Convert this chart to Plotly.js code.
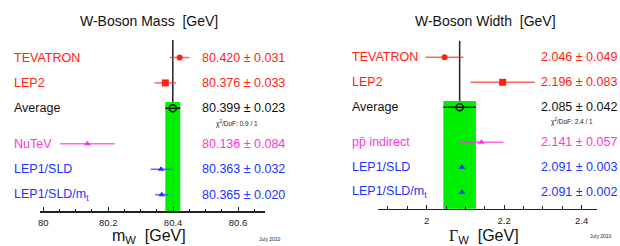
<!DOCTYPE html>
<html><head><meta charset="utf-8">
<script src="https://cdn.plot.ly/plotly-3.0.1.min.js"></script>
<style>html,body{margin:0;padding:0;background:#fff}#c{width:620px;height:246px}</style>
</head><body><div id="c"></div>
<script>
// ---- data ----
const massLabels = ['TEVATRON', 'LEP2', 'Average', 'NuTeV', 'LEP1/SLD', 'LEP1/SLD/m<sub>t</sub>'];
const massValues = [80.420, 80.376, 80.399, 80.136, 80.363, 80.365];
const massErrors = [0.031, 0.033, 0.023, 0.084, 0.032, 0.020];
const massChi2 = '0.9 / 1';

const widthLabels = ['TEVATRON', 'LEP2', 'Average', 'pp\u0304 indirect', 'LEP1/SLD', 'LEP1/SLD/m<sub>t</sub>'];
const widthValues = [2.046, 2.196, 2.085, 2.141, 2.091, 2.091];
const widthErrors = [0.049, 0.083, 0.042, 0.057, 0.003, 0.002];
const widthChi2 = '2.4 / 1';

const massTicks = [80, 80.2, 80.4, 80.6];
const widthTicks = [2, 2.2, 2.4];

// ---- styles (per row) ----
const rowPos = [0, 1, 2, 3.4, 4.4, 5.4];
const AVG = 2;
const textColors = ['#ff2211', '#ff2211', '#111111', '#ff33e0', '#2233ff', '#2233ff'];
const barColors = ['rgba(255,40,30,0.7)', 'rgba(255,40,30,0.7)', '#111111', 'rgba(255,50,225,0.75)', 'rgba(40,60,255,0.75)', 'rgba(40,60,255,0.75)'];
const symbols = ['circle', 'square', 'circle-open', 'triangle-up', 'triangle-up', 'triangle-up'];
const sizes = [6, 7, 7, 6, 6, 6];
const FONT = 'Liberation Sans, Arial, sans-serif';

const traces = [];
const annotations = [];
const shapes = [];

function panel(vals, errs, labels, chi2, xa, ya, labelX, valueX, chiX, dec) {
  const xr = xa;
  const yr = ya;
  // green band & central line
  shapes.push({type: 'rect', xref: xr, yref: yr, x0: vals[AVG] - errs[AVG], x1: vals[AVG] + errs[AVG],
    y0: rowPos[AVG] - 0.25, y1: 7, fillcolor: '#00ee00', line: {width: 0}, layer: 'below'});
  shapes.push({type: 'line', xref: xr, yref: yr + ' domain', x0: vals[AVG], x1: vals[AVG], y0: 0, y1: 1,
    line: {color: '#222', width: 1.5}, layer: 'below'});
  for (let i = 0; i < vals.length; i++) {
    traces.push({
      type: 'scatter', mode: 'markers', x: [vals[i]], y: [rowPos[i]], xaxis: xr, yaxis: yr,
      marker: {symbol: symbols[i], size: sizes[i], color: i === AVG ? '#111' : textColors[i],
               line: {width: i === AVG ? 1.5 : 0, color: '#111'}},
      error_x: {type: 'data', array: [errs[i]], visible: true, width: 0, thickness: 1.5, color: barColors[i]},
      hoverinfo: 'skip', showlegend: false, cliponaxis: false
    });
    annotations.push({xref: 'paper', yref: yr, x: labelX, y: rowPos[i], xanchor: 'left', yanchor: 'middle',
      text: labels[i], showarrow: false, font: {family: FONT, size: 12.5, color: textColors[i]}});
    annotations.push({xref: 'paper', yref: yr, x: valueX, y: rowPos[i], xanchor: 'right', yanchor: 'middle',
      text: vals[i].toFixed(dec) + ' \u00b1 ' + errs[i].toFixed(3), showarrow: false,
      font: {family: FONT, size: 12.5, color: textColors[i]}});
  }
  annotations.push({xref: 'paper', yref: yr, x: chiX, y: rowPos[AVG] + 0.58, xanchor: 'left', yanchor: 'middle',
    text: '\u03c7<sup>2</sup>/DoF: ' + chi2, showarrow: false, font: {family: FONT, size: 6.5, color: '#222'}});
}

panel(massValues, massErrors, massLabels, massChi2, 'x', 'y', 12 / 620, 287 / 620, 214 / 620, 3);
panel(widthValues, widthErrors, widthLabels, widthChi2, 'x2', 'y2', 350 / 620, 619 / 620, 549 / 620, 3);

// titles
annotations.push({xref: 'paper', yref: 'paper', x: 149 / 620, y: 1 - 21 / 246, xanchor: 'center', yanchor: 'middle',
  text: 'W-Boson Mass\u00a0 [GeV]', showarrow: false, font: {family: FONT, size: 14, color: '#111'}});
annotations.push({xref: 'paper', yref: 'paper', x: 486 / 620, y: 1 - 21 / 246, xanchor: 'center', yanchor: 'middle',
  text: 'W-Boson Width\u00a0 [GeV]', showarrow: false, font: {family: FONT, size: 14, color: '#111'}});
// axis titles
annotations.push({xref: 'paper', yref: 'paper', x: 149 / 620, y: 1 - 236.5 / 246, xanchor: 'center', yanchor: 'middle',
  text: 'm<sub>W</sub>\u00a0 [GeV]', showarrow: false, font: {family: FONT, size: 16, color: '#111'}});
annotations.push({xref: 'paper', yref: 'paper', x: 484 / 620, y: 1 - 236.5 / 246, xanchor: 'center', yanchor: 'middle',
  text: '<span style="font-family:Liberation Serif,serif">\u0393</span><sub>W</sub>\u00a0 [GeV]', showarrow: false,
  font: {family: FONT, size: 16, color: '#111'}});
// date stamps
annotations.push({xref: 'paper', yref: 'paper', x: 270 / 620, y: 1 - 239 / 246, xanchor: 'center', yanchor: 'middle',
  text: 'July 2010', showarrow: false, font: {family: FONT, size: 5, color: '#222'}});
annotations.push({xref: 'paper', yref: 'paper', x: 601 / 620, y: 1 - 236 / 246, xanchor: 'center', yanchor: 'middle',
  text: 'July 2010', showarrow: false, font: {family: FONT, size: 5, color: '#222'}});

const xCommon = {
  showline: true, linecolor: '#222', linewidth: 1.5, showgrid: false, zeroline: false,
  ticks: 'inside', ticklen: 4, tickwidth: 1, tickcolor: '#222', tickmode: 'array',
  minor: {dtick: 0.05, ticks: 'inside', ticklen: 2.5, tickcolor: '#222', showgrid: false},
  tickfont: {family: FONT, size: 9.5, color: '#222'}, ticklabelstandoff: 2, fixedrange: true
};

const layout = {
  width: 620, height: 246, margin: {l: 0, r: 0, t: 0, b: 0},
  paper_bgcolor: '#fff', plot_bgcolor: 'rgba(0,0,0,0)', showlegend: false,
  xaxis: Object.assign({}, xCommon, {domain: [40 / 620, 265 / 620], range: [79.99, 80.683], anchor: 'y',
    tickvals: massTicks, ticktext: massTicks.map(String), minor: Object.assign({}, xCommon.minor, {tick0: 80})}),
  yaxis: {domain: [1 - 211 / 246, 1 - 40 / 246], range: [6.043, -0.689], visible: false, fixedrange: true},
  xaxis2: Object.assign({}, xCommon, {domain: [377.7 / 620, 597 / 620], range: [1.8735, 2.4395], anchor: 'y2',
    tickvals: widthTicks, ticktext: widthTicks.map(String), minor: Object.assign({}, xCommon.minor, {tick0: 2})}),
  yaxis2: {domain: [1 - 208.7 / 246, 1 - 40.7 / 246], range: [6.056, -0.664], visible: false, fixedrange: true},
  shapes: shapes, annotations: annotations
};

Plotly.newPlot('c', traces, layout, {staticPlot: true, displayModeBar: false});
</script></body></html>
